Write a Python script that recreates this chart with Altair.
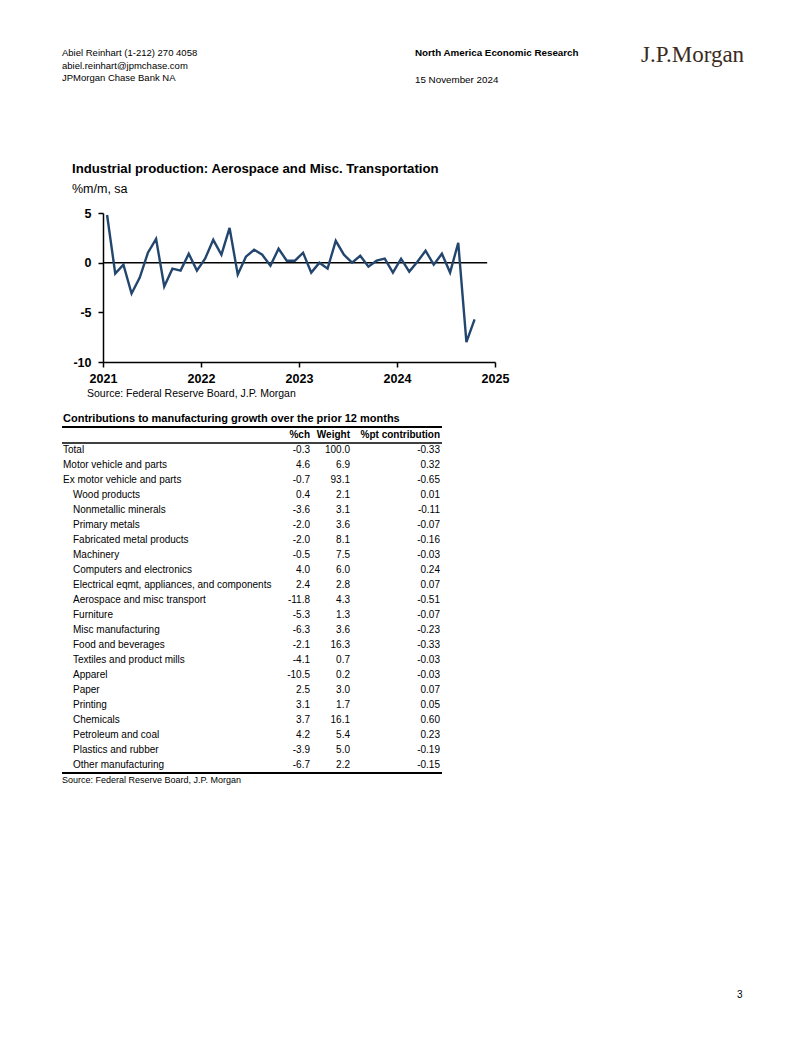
import altair as alt
import pandas as pd

# ---------------- data ----------------
months = [f"{y}-{m:02d}" for y in range(2021, 2025) for m in range(1, 13)][:46]
aero = [4.8, -1.1, -0.2, -3.1, -1.5, 1.0, 2.4, -2.4, -0.6, -0.8, 0.9, -0.8,
        0.4, 2.3, 0.8, 3.5, -1.2, 0.6, 1.3, 0.8, -0.3, 1.4, 0.2, 0.2,
        1.0, -1.0, 0.0, -0.6, 2.2, 0.8, 0.0, 0.7, -0.4, 0.2, 0.4, -1.0,
        0.4, -0.9, 0.1, 1.2, -0.2, 0.9, -1.0, 2.0, -8.0, -5.7]

sectors = ["Total", "Motor vehicle and parts", "Ex motor vehicle and parts",
           "Wood products", "Nonmetallic minerals", "Primary metals",
           "Fabricated metal products", "Machinery", "Computers and electronics",
           "Electrical eqmt, appliances, and components", "Aerospace and misc transport",
           "Furniture", "Misc manufacturing", "Food and beverages",
           "Textiles and product mills", "Apparel", "Paper", "Printing",
           "Chemicals", "Petroleum and coal", "Plastics and rubber", "Other manufacturing"]
level = [0, 0, 0] + [1] * 19
pct_ch = [-0.3, 4.6, -0.7, 0.4, -3.6, -2.0, -2.0, -0.5, 4.0, 2.4, -11.8,
          -5.3, -6.3, -2.1, -4.1, -10.5, 2.5, 3.1, 3.7, 4.2, -3.9, -6.7]
weight = [100.0, 6.9, 93.1, 2.1, 3.1, 3.6, 8.1, 7.5, 6.0, 2.8, 4.3,
          1.3, 3.6, 16.3, 0.7, 0.2, 3.0, 1.7, 16.1, 5.4, 5.0, 2.2]
contrib = [-0.33, 0.32, -0.65, 0.01, -0.11, -0.07, -0.16, -0.03, 0.24, 0.07, -0.51,
           -0.07, -0.23, -0.33, -0.03, -0.03, 0.07, 0.05, 0.60, 0.23, -0.19, -0.15]
year_ticks = [2021, 2022, 2023, 2024, 2025]
y_ticks = [-10, -5, 0, 5]

# ---------------- layout ----------------
W, H = 786, 1021
SANS = "Liberation Sans, Arial, sans-serif"
SERIF = "Liberation Serif, Times New Roman, serif"
LINE_BLUE = "#23466F"

line_df = pd.DataFrame({
    "t": [int(s[:4]) + (int(s[5:]) - 0.5) / 12 for s in months],
    "v": aero,
})
tab_df = pd.DataFrame({
    "row": list(range(len(sectors))),
    "label": sectors,
    "level": level,
    "pct": [f"{v:.1f}" for v in pct_ch],
    "weight": [f"{v:.1f}" for v in weight],
    "contrib": [f"{v:.2f}" for v in contrib],
})

X0, X1 = 95, 487          # plot area x range (chart coords)
Y_TOP, Y_BOT = 205, 354   # plot area y range (chart coords)

xs = alt.Scale(domain=[2021, 2025], range=[X0, X1], nice=False, zero=False)
ys = alt.Scale(domain=[-10, 5], range=[Y_BOT, Y_TOP], nice=False, zero=False)

axis_common = dict(
    domainColor="black", domainWidth=1.5, tickColor="black", tickWidth=1.5,
    tickSize=5, labelFont=SANS, labelFontSize=12.5, labelFontWeight="bold",
    labelColor="black", grid=False, title=None, labelFlush=False,
    labelOverlap=False, labelBound=False,
)

line = alt.Chart(line_df).mark_line(color=LINE_BLUE, strokeWidth=2.4).encode(
    x=alt.X("t:Q", scale=xs,
            axis=alt.Axis(values=year_ticks, format="d", orient="bottom",
                          offset=Y_BOT - H, labelPadding=5, **axis_common)),
    y=alt.Y("v:Q", scale=ys,
            axis=alt.Axis(values=y_ticks, orient="left", offset=-X0,
                          labelExpr="'' + datum.value",
                          labelPadding=7, **axis_common)),
)
zero = alt.Chart(alt.Data(values=[{}])).mark_rule(color="black", strokeWidth=1.5).encode(
    x=alt.datum(2021), x2=alt.datum(2024.92), y=alt.datum(0)
)
chart_layer = alt.layer(zero, line)


def label(txt, x, y, size=11, bold=False, align="left", font=SANS, color="black"):
    return alt.Chart(alt.Data(values=[{"t": txt}])).mark_text(
        align=align, baseline="middle", fontSize=size,
        fontWeight="bold" if bold else "normal", font=font, color=color,
    ).encode(x=alt.value(x), y=alt.value(y), text="t:N")


def hline(y, x0, x1, w):
    return alt.Chart(alt.Data(values=[{}])).mark_rule(color="black", strokeWidth=w).encode(
        x=alt.value(x0), x2=alt.value(x1), y=alt.value(y)
    )


ROW0 = 442
ROW_H = 15
rs = alt.Scale(domain=[0, len(sectors) - 1],
               range=[ROW0, ROW0 + ROW_H * (len(sectors) - 1)], nice=False, zero=False)
tbase = alt.Chart(tab_df)
tsize = 10


def col(field, xpos):
    return tbase.mark_text(align="right", baseline="middle", fontSize=tsize,
                           font=SANS, color="black").encode(
        x=alt.value(xpos),
        y=alt.Y("row:Q", scale=rs, axis=None),
        text=alt.Text(f"{field}:N"),
    )


lab0 = tbase.transform_filter("datum.level == 0").mark_text(
    align="left", baseline="middle", fontSize=tsize, font=SANS, color="black"
).encode(x=alt.value(55), y=alt.Y("row:Q", scale=rs, axis=None), text="label:N")
lab1 = tbase.transform_filter("datum.level == 1").mark_text(
    align="left", baseline="middle", fontSize=tsize, font=SANS, color="black"
).encode(x=alt.value(65), y=alt.Y("row:Q", scale=rs, axis=None), text="label:N")

table_layer = alt.layer(
    lab0, lab1, col("pct", 302), col("weight", 342), col("contrib", 432),
)

static = [
    # page header
    label("Abiel Reinhart  (1-212) 270 4058", 54, 45, 9.5),
    label("abiel.reinhart@jpmchase.com", 54, 58, 9.5),
    label("JPMorgan Chase Bank NA", 54, 70, 9.5),
    label("North America Economic Research", 407, 45, 9.8, bold=True),
    label("15 November 2024", 407, 72, 9.8),
    label("J.P.Morgan", 633, 47, 23, font=SERIF, color="#3A2A20"),
    # chart texts
    label("Industrial production: Aerospace and Misc. Transportation", 64, 161, 13.2, bold=True),
    label("%m/m, sa", 64, 181, 12.5),
    label("Source: Federal Reserve Board, J.P. Morgan", 79, 386, 10.5),
    # table texts
    label("Contributions to manufacturing growth over the prior 12 months", 55, 411, 11, bold=True),
    hline(419, 54, 434, 2),
    label("%ch", 302, 427, tsize, bold=True, align="right"),
    label("Weight", 342, 427, tsize, bold=True, align="right"),
    label("%pt contribution", 432, 427, tsize, bold=True, align="right"),
    hline(435, 54, 434, 1.5),
    hline(765, 54, 434, 2),
    label("Source: Federal Reserve Board, J.P. Morgan", 54, 772, 9),
    # page number
    label("3", 729, 987, 10),
]

chart = alt.layer(chart_layer, table_layer, *static).resolve_scale(
    y="independent", x="independent"
).properties(
    width=W, height=H, autosize="none", padding=0, background="white"
).configure_view(stroke=None)

chart.save("out.html", embed_options={"renderer": "svg", "actions": False})
